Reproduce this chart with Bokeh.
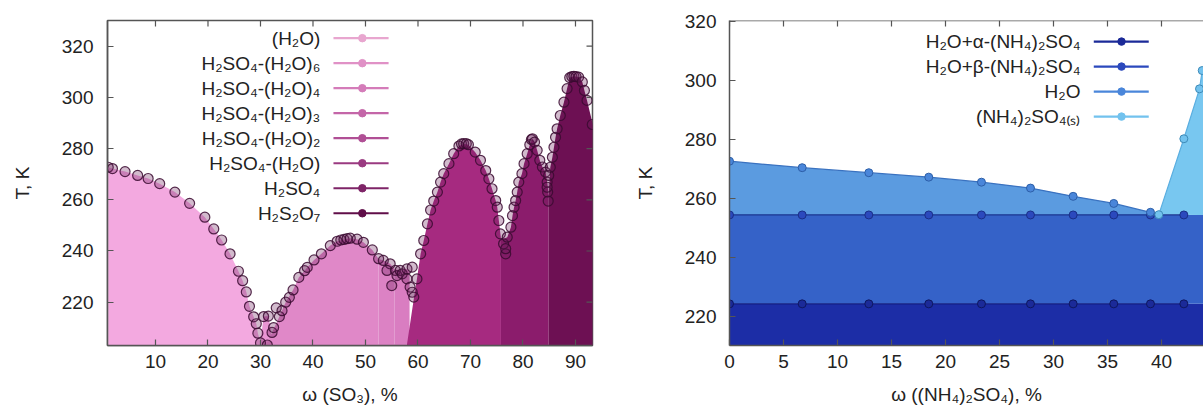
import numpy as np
from bokeh.plotting import figure
from bokeh.models import FixedTicker, BoxAnnotation, Range1d, Span
from bokeh.layouts import row
from bokeh.embed import file_html
from bokeh.resources import INLINE
from bokeh.core.properties import value

FONT = "Liberation Sans"
TXT = "#222222"
AX = "#555555"

# ---------------- left panel data: H2SO4 - H2O (omega SO3, %) ----------------
left_x_ticks = [10, 20, 30, 40, 50, 60, 70, 80, 90]
left_y_ticks = [220, 240, 260, 280, 300, 320]
left_labels = ["(H₂O)", "H₂SO₄-(H₂O)₆", "H₂SO₄-(H₂O)₄", "H₂SO₄-(H₂O)₃",
               "H₂SO₄-(H₂O)₂", "H₂SO₄-(H₂O)", "H₂SO₄", "H₂S₂O₇"]
left_line_colors = ["#e8a6cf", "#e091c6", "#d47cb9", "#c466a8",
                    "#b04f95", "#9a3a81", "#7e2467", "#600e49"]
left_fill_colors = ["#f3a9e0", "#e994d3", "#e088c8", "#dc82c4",
                    "#d97dc1", "#a62a80", "#8b1c6c", "#6d1053"]

# liquidus edges (fill boundaries)
ice_x = [1.0, 1.8, 4.2, 6.6, 8.6, 10.8, 13.7, 16.5, 19.4, 21.1, 22.6, 24.2, 25.8,
         26.6, 27.3, 27.9, 28.7, 29.2, 29.5, 30.0]
ice_T = [272.7, 272.2, 271.0, 269.5, 268.3, 266.3, 263.0, 258.6, 253.2, 248.6, 244.3,
         238.9, 232.1, 228.4, 224.0, 218.4, 214.3, 211.6, 207.9, 204.1]

hexa_ex = [30.0, 30.6, 31.5, 32.0]
hexa_eT = [204.5, 214.4, 214.6, 209.0]
tetra_ex = [31.0, 32.2, 33.6, 34.8, 36.2, 37.3, 38.9, 40.2, 41.6, 43.3, 44.6, 45.9,
            47.1, 48.4, 49.6, 51.3, 52.5]
tetra_eT = [203.3, 208.2, 214.4, 220.0, 224.8, 229.7, 233.6, 236.5, 238.9, 242.1,
            243.8, 244.5, 245.0, 244.6, 243.4, 240.4, 236.9]
tri_ex = [52.5, 53.4, 54.7, 55.5]
tri_eT = [236.9, 236.3, 235.0, 233.0]
di_ex = [55.5, 56.6, 57.9, 58.4]
di_eT = [233.0, 232.4, 233.0, 232.0]
mono_ex = [57.9, 59.2, 59.8, 60.5, 61.1, 61.8, 62.4, 63.0, 63.7, 64.3, 64.9, 65.9,
           66.8, 67.8, 68.7, 69.6, 70.9, 71.9, 72.9, 73.5, 74.1, 74.8, 75.1, 75.4, 75.8]
mono_eT = [203.5, 221.3, 229.1, 238.9, 244.1, 250.6, 256.0, 259.5, 263.0, 266.9,
           270.2, 274.1, 278.0, 281.0, 281.9, 281.5, 278.6, 275.4, 271.4, 268.2,
           264.3, 259.7, 257.1, 251.9, 245.0]
acid_ex = [75.8, 76.3, 77.0, 77.7, 78.0, 78.3, 78.6, 78.9, 79.2, 79.8, 80.2, 80.8,
           81.3, 81.8, 82.2, 82.7, 83.2, 83.7, 84.3, 84.6, 84.9]
acid_eT = [245.0, 244.8, 245.4, 249.3, 253.8, 257.1, 259.7, 263.0, 266.9, 270.2,
           274.1, 278.0, 281.5, 283.8, 282.5, 279.3, 275.4, 272.8, 270.8, 266.9, 262.0]
pyro_ex = [84.9, 85.2, 85.6, 85.9, 86.2, 86.5, 87.1, 87.8, 88.4, 88.9, 89.7, 90.6,
           91.3, 91.7, 92.2, 93.4]
pyro_eT = [262.0, 272.7, 276.6, 280.5, 284.4, 287.7, 292.9, 298.1, 303.4, 307.7,
           308.2, 307.9, 306.0, 302.7, 298.8, 288.5]

# experimental points
hexa_x = [30.6, 31.5, 33.0]
hexa_T = [214.4, 214.6, 217.8]
tetra_x = [31.3, 32.2, 32.5, 33.6, 34.1, 34.8, 35.5, 36.2, 37.3, 38.4, 38.9, 40.2,
           41.6, 43.3, 44.6, 45.3, 45.9, 46.5, 47.1, 48.4, 49.6, 51.3]
tetra_T = [203.3, 208.2, 210.1, 214.4, 216.7, 220.0, 221.9, 224.8, 229.7, 232.3,
           233.6, 236.5, 238.9, 242.1, 243.8, 244.3, 244.5, 244.8, 245.0, 244.6,
           243.4, 240.4]
tri_x = [52.5, 53.4, 54.7, 54.1, 55.0, 55.7]
tri_T = [237.0, 236.3, 235.0, 232.4, 226.5, 232.4]
di_x = [56.0, 56.6, 57.0, 57.9, 57.9, 58.5, 58.9, 59.2, 58.9]
di_T = [230.4, 232.4, 231.1, 233.0, 229.1, 225.9, 223.9, 222.0, 233.7]
mono_x = [59.8, 60.5, 61.1, 61.8, 62.4, 63.0, 63.7, 64.3, 64.9, 65.9, 66.8, 67.8,
          68.3, 68.7, 69.2, 69.6, 70.9, 71.9, 72.9, 73.5, 74.1, 74.8, 75.1, 75.4,
          75.7, 76.3]
mono_T = [229.1, 238.9, 244.1, 250.6, 256.0, 259.5, 263.0, 266.9, 270.2, 274.1,
          278.0, 281.0, 281.8, 281.9, 281.9, 281.5, 278.6, 275.4, 271.4, 268.2,
          264.3, 259.7, 257.1, 251.9, 246.7, 242.8]
acid_x = [76.7, 76.7, 77.0, 77.7, 78.0, 78.3, 78.6, 78.9, 79.2, 79.8, 80.2, 80.8,
          81.3, 81.6, 81.8, 82.2, 82.7, 83.2, 83.7, 84.3, 84.6, 84.7, 84.8]
acid_T = [238.9, 240.9, 245.4, 249.3, 253.8, 257.1, 259.7, 263.0, 266.9, 270.2,
          274.1, 278.0, 281.5, 283.5, 283.8, 282.5, 279.3, 275.4, 272.8, 270.8,
          266.9, 263.0, 259.5]
pyro_x = [84.6, 84.9, 85.2, 85.6, 85.9, 86.2, 86.5, 87.1, 87.8, 88.4, 88.9, 89.3,
          89.7, 90.1, 90.6, 91.3, 91.7, 92.2, 93.2]
pyro_T = [264.9, 269.5, 272.7, 276.6, 280.5, 284.4, 287.7, 292.9, 298.1, 303.4,
          307.7, 308.1, 308.2, 308.1, 307.9, 306.0, 302.7, 298.8, 289.4]

# ---------------- right panel data: (NH4)2SO4 - H2O ----------------
right_x_ticks = [0, 5, 10, 15, 20, 25, 30, 35, 40, 45]
right_y_ticks = [220, 240, 260, 280, 300, 320]
right_labels = ["H₂O+α-(NH₄)₂SO₄", "H₂O+β-(NH₄)₂SO₄", "H₂O", "(NH₄)₂SO₄₍ₛ₎"]
right_line_colors = ["#1b2a98", "#2b49bd", "#4a86da", "#72c2ee"]
right_fill_colors = ["#1c2da6", "#3562c8", "#5b9be0", "#78c7f0"]
right_pt_edge = ["#0e1760", "#1a2f88", "#2d5fa8", "#3d8ab8"]

alpha_x = [0.0, 6.73, 12.9, 18.45, 23.33, 27.87, 31.82, 35.58, 38.98, 42.07]
alpha_T = [224.3, 224.3, 224.3, 224.3, 224.3, 224.3, 224.3, 224.3, 224.3, 224.3]
beta_x = [0.0, 6.73, 12.9, 18.45, 23.33, 27.87, 31.82, 35.58, 38.98, 42.07]
beta_T = [254.4, 254.4, 254.4, 254.4, 254.4, 254.4, 254.4, 254.4, 254.4, 254.4]
water_x = [0.0, 6.73, 12.9, 18.45, 23.33, 27.87, 31.82, 35.58, 38.98]
water_T = [272.6, 270.4, 268.7, 267.2, 265.5, 263.5, 260.7, 258.3, 255.3]
salt_x = [39.75, 42.07, 43.52, 43.77]
salt_T = [254.5, 280.2, 297.1, 303.3]

TICK_LEN = 6  # px, inward


def style_axis(ax, ticks, standoff=10):
    ax.ticker = FixedTicker(ticks=ticks)
    ax.major_tick_in = TICK_LEN
    ax.major_tick_out = 0
    ax.minor_tick_line_color = None
    ax.axis_line_color = AX
    ax.axis_line_width = 1.5
    ax.major_tick_line_color = AX
    ax.major_tick_line_width = 1.2
    ax.major_label_text_font = FONT
    ax.major_label_text_color = TXT
    ax.major_label_text_font_size = "19px"
    ax.major_label_standoff = standoff
    ax.axis_label_text_font = FONT
    ax.axis_label_text_font_size = "19px"
    ax.axis_label_text_font_style = "normal"
    ax.axis_label_text_color = TXT


def mirror_ticks(p, xticks, yticks, xr, yr, fw, fh, right=True):
    """inward tick marks on the top (and right) frame edges"""
    dy = TICK_LEN * (yr.end - yr.start) / fh
    dx = TICK_LEN * (xr.end - xr.start) / fw
    xt = [t for t in xticks if xr.start <= t <= xr.end]
    p.segment(x0=xt, y0=[yr.end] * len(xt), x1=xt, y1=[yr.end - dy] * len(xt),
              line_color=AX, line_width=1.2)
    if right:
        yt = [t for t in yticks if yr.start <= t <= yr.end]
        p.segment(x0=[xr.end] * len(yt), y0=yt, x1=[xr.end - dx] * len(yt), y1=yt,
                  line_color=AX, line_width=1.2)


def draw_legend(p, labels, colors, tx, lx0, lx1, dx, y0, dy):
    ys = [y0 + dy * i for i in range(len(labels))]
    p.text(x=[tx] * len(labels), y=ys, text=labels, text_align="right",
           text_baseline="middle", text_font=value(FONT), text_font_size="19px",
           text_color=TXT)
    p.segment(x0=[lx0] * len(labels), y0=ys, x1=[lx1] * len(labels), y1=ys,
              line_color=colors, line_width=2.2)
    p.scatter(x=[dx] * len(labels), y=ys, size=7.5, marker="circle",
              fill_color=colors, line_color=colors)


# ---------------- left figure ----------------
XL = Range1d(0.86, 93.24)
YL = Range1d(203.1, 330.0)
FW1, FH = 485, 325
p1 = figure(width=628, height=408, x_range=XL, y_range=YL, output_backend="svg",
            toolbar_location=None, min_border_left=107, min_border_right=36,
            min_border_top=20, min_border_bottom=63)
p1.grid.visible = False
p1.outline_line_color = AX
p1.outline_line_width = 1.5
p1.background_fill_color = "white"

FLOOR = 150
edges = [(ice_x, ice_T), (hexa_ex, hexa_eT), (tetra_ex, tetra_eT), (tri_ex, tri_eT),
         (di_ex, di_eT), (mono_ex, mono_eT), (acid_ex, acid_eT), (pyro_ex, pyro_eT)]
for (ex, eT), fc in zip(edges, left_fill_colors):
    xs = [ex[0]] + list(ex) + [ex[-1]]
    ys = [FLOOR] + list(eT) + [FLOOR]
    p1.patch(xs, ys, fill_color=fc, line_color=None)

pts = [(ice_x, ice_T), (hexa_x, hexa_T), (tetra_x, tetra_T), (tri_x, tri_T),
       (di_x, di_T), (mono_x, mono_T), (acid_x, acid_T), (pyro_x, pyro_T)]
for (px, pT) in pts:
    p1.scatter(px, pT, size=10, marker="circle", fill_color="#6a1f5a",
               fill_alpha=0.3, line_color="#3a0a30", line_alpha=0.85, line_width=1.2)

draw_legend(p1, left_labels, left_line_colors, 41.4, 43.9, 54.4, 49.4, 323.1, -9.766)
mirror_ticks(p1, left_x_ticks, left_y_ticks, XL, YL, FW1, FH, right=True)

ax = p1.xaxis[0]
style_axis(ax, left_x_ticks, standoff=9)
ax.axis_label = "ω (SO₃), %"
ax.axis_label_standoff = 13
ay = p1.yaxis[0]
style_axis(ay, left_y_ticks, standoff=14)
ay.axis_label = "T, K"
ay.axis_label_standoff = 26

# ---------------- right figure ----------------
XR = Range1d(0.0, 43.89)
YR = Range1d(210.2, 320.24)
FW2 = 474
p2 = figure(width=575, height=408, x_range=XR, y_range=YR, output_backend="svg",
            toolbar_location=None, min_border_left=101, min_border_right=0,
            min_border_top=20, min_border_bottom=63)
p2.grid.visible = False
p2.outline_line_color = None

a_level = alpha_T[0]
b_level = beta_T[0]
p2.add_layout(BoxAnnotation(top=a_level, fill_color=right_fill_colors[0], fill_alpha=1,
                            line_color=None, level="underlay"))
p2.add_layout(BoxAnnotation(bottom=a_level, top=b_level, fill_color=right_fill_colors[1],
                            fill_alpha=1, line_color=None, level="underlay"))
wx = list(water_x) + [salt_x[0], salt_x[0], water_x[0]]
wy = list(water_T) + [salt_T[0], b_level, b_level]
p2.patch(wx, wy, fill_color=right_fill_colors[2], line_color=None)
sx = list(salt_x) + [XR.end + 1, XR.end + 1]
sy = list(salt_T) + [salt_T[-1] + 4, b_level]
p2.patch(sx, sy, fill_color=right_fill_colors[3], line_color=None)

p2.line(alpha_x, alpha_T, line_color="#101c80", line_width=1.2)
p2.line(beta_x, beta_T, line_color="#1a3490", line_width=1.2)
p2.line(water_x + [salt_x[0]], water_T + [salt_T[0]], line_color="#3a72c0", line_width=1.2)
p2.line(salt_x, salt_T, line_color="#5aaee0", line_width=1.2)

for (px, pT), fc, ec in zip([(alpha_x, alpha_T), (beta_x, beta_T), (water_x, water_T),
                             (salt_x, salt_T)], right_line_colors, right_pt_edge):
    p2.scatter(px, pT, size=8, marker="circle", fill_color=fc, line_color=ec,
               line_width=1)

draw_legend(p2, right_labels, right_line_colors, 32.5, 33.73, 38.82, 36.3, 313.1, -8.466)
p2.add_layout(Span(location=YR.end, dimension="width", line_color=AX, line_width=1.5))
mirror_ticks(p2, right_x_ticks, right_y_ticks, XR, YR, FW2, FH, right=False)

bx = p2.xaxis[0]
style_axis(bx, right_x_ticks, standoff=9)
bx.axis_label = "ω ((NH₄)₂SO₄), %"
bx.axis_label_standoff = 13
by = p2.yaxis[0]
style_axis(by, right_y_ticks, standoff=13)
by.axis_label = "T, K"
by.axis_label_standoff = 26

layout = row(p1, p2)
open("out.html", "w").write(file_html(layout, INLINE))
